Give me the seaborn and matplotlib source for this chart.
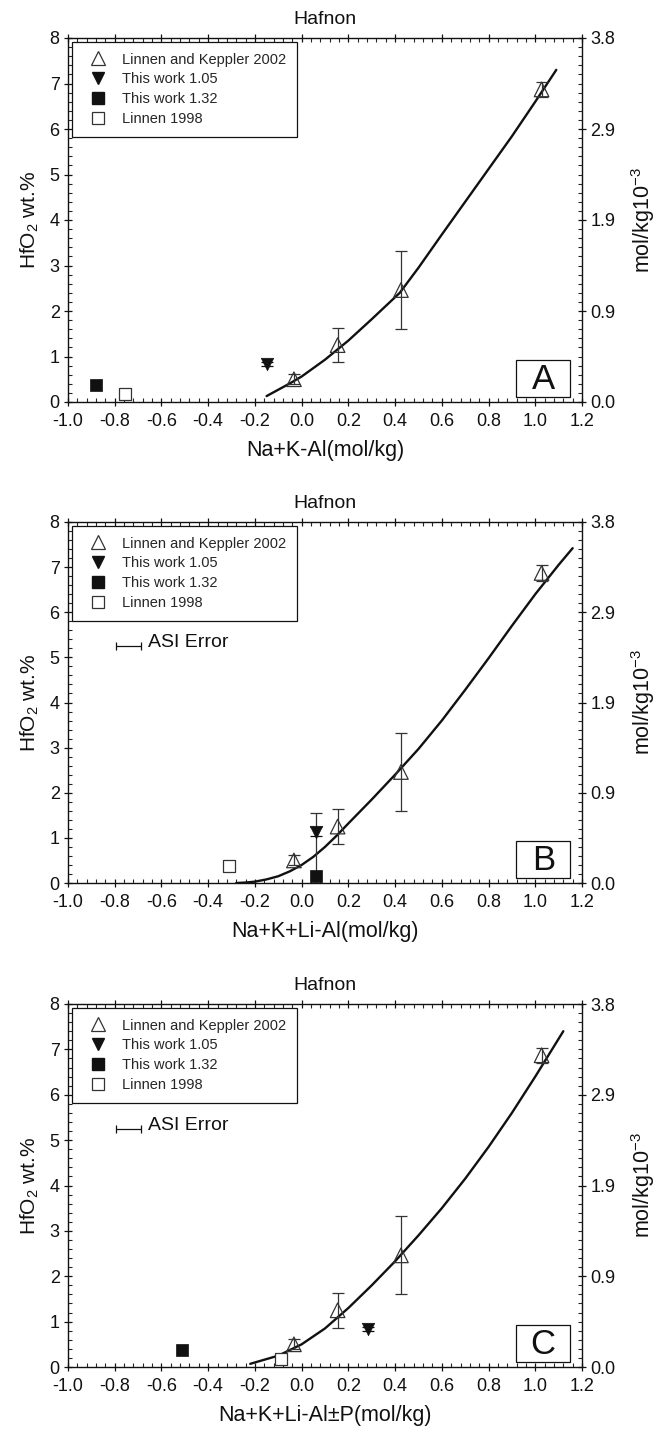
import matplotlib
matplotlib.use("Agg")
import matplotlib.pyplot as plt
import seaborn as sns
from matplotlib.lines import Line2D
from matplotlib.patches import Rectangle
from matplotlib.ticker import MultipleLocator, FixedLocator, FixedFormatter


# --------------------------------------------------
# Data
# --------------------------------------------------

panel_letters = ["A", "B", "C"]
x_labels = ["Na+K-Al(mol/kg)", "Na+K+Li-Al(mol/kg)", "Na+K+Li-Al±P(mol/kg)"]
legend_labels = ["Linnen and Keppler 2002", "This work 1.05", "This work 1.32", "Linnen 1998"]
right_tick_labels = ["0.0", "0.9", "1.9", "2.9", "3.8"]

# Linnen and Keppler 2002 (same in every panel)
keppler_x = [-0.033, 0.154, 0.425, 1.027]
keppler_y = [0.50, 1.25, 2.46, 6.87]
keppler_err = [0.11, 0.38, 0.86, 0.17]

# one value per panel (A, B, C)
work105_x = [-0.147, 0.062, 0.282]
work105_y = [0.84, 1.14, 0.84]
work105_err = [0.05, 0.10, 0.05]

work132_x = [-0.880, 0.062, -0.511]
work132_y = [0.38, 0.16, 0.38]
work132_err = [0.0, 1.39, 0.0]

linnen98_x = [-0.755, -0.313, -0.088]
linnen98_y = [0.18, 0.37, 0.18]

# fitted curves
curve_a_x = [-0.15, -0.1, -0.05, 0.0, 0.1, 0.2, 0.3, 0.42, 0.5, 0.6, 0.7, 0.8, 0.9, 1.0, 1.09]
curve_a_y = [0.13, 0.27, 0.41, 0.56, 0.93, 1.35, 1.82, 2.40, 2.95, 3.68, 4.40, 5.12, 5.84, 6.60, 7.30]

curve_b_x = [-0.28, -0.24, -0.2, -0.15, -0.1, -0.05, 0.0, 0.05, 0.1, 0.15, 0.2, 0.3,
             0.4, 0.5, 0.6, 0.7, 0.8, 0.9, 1.0, 1.1, 1.16]
curve_b_y = [0.0, 0.01, 0.03, 0.08, 0.15, 0.26, 0.40, 0.58, 0.80, 1.05, 1.32, 1.85,
             2.40, 2.97, 3.60, 4.28, 4.98, 5.70, 6.40, 7.05, 7.42]

curve_c_x = [-0.22, -0.1, 0.0, 0.1, 0.2, 0.3, 0.4, 0.5, 0.6, 0.7, 0.8, 0.9, 1.0, 1.12]
curve_c_y = [0.07, 0.25, 0.50, 0.85, 1.30, 1.80, 2.33, 2.90, 3.50, 4.15, 4.85, 5.60, 6.40, 7.40]

curves = [(curve_a_x, curve_a_y), (curve_b_x, curve_b_y), (curve_c_x, curve_c_y)]

# ASI error bar (panels B and C)
asi_x = -0.742
asi_y = 5.25
asi_err = 0.053


# --------------------------------------------------
# Style
# --------------------------------------------------

sns.set_style("ticks")
plt.rcParams["font.family"] = ["Liberation Sans", "DejaVu Sans"]
plt.rcParams["mathtext.fontset"] = "custom"
plt.rcParams["mathtext.rm"] = "Liberation Sans"
plt.rcParams["mathtext.it"] = "Liberation Sans"

ink = "#111111"
grey = "#333333"

fig = plt.figure(figsize=(6.62, 14.29), dpi=100)

W, H = 662, 1429
panel_boxes = [(38, 402), (522, 883), (1004, 1367)]
left_px, right_px = 68, 582


# --------------------------------------------------
# Panels
# --------------------------------------------------

for i, (top, bottom) in enumerate(panel_boxes):
    ax = fig.add_axes([
        left_px / W,
        (H - bottom) / H,
        (right_px - left_px) / W,
        (bottom - top) / H,
    ])

    cx, cy = curves[i]
    sns.lineplot(x=cx, y=cy, ax=ax, color=ink, linewidth=1.7, sort=False, zorder=2)
    ax.lines[-1].set_solid_joinstyle("round")

    # Linnen and Keppler 2002
    ax.errorbar(keppler_x, keppler_y, yerr=keppler_err, fmt="none",
                ecolor=grey, elinewidth=0.9, capsize=4, capthick=0.9, zorder=3)
    sns.scatterplot(x=keppler_x, y=keppler_y, ax=ax, marker="^", s=110,
                    facecolor="none", edgecolor=grey, linewidth=0.9, zorder=4)

    # This work 1.32
    if work132_err[i] > 0:
        ax.errorbar([work132_x[i]], [work132_y[i]], yerr=[work132_err[i]], fmt="none",
                    ecolor=grey, elinewidth=0.9, capsize=4, capthick=0.9, zorder=3)
    sns.scatterplot(x=[work132_x[i]], y=[work132_y[i]], ax=ax, marker="s", s=75,
                    color=ink, edgecolor=ink, linewidth=0.5, zorder=5)

    # This work 1.05
    ax.errorbar([work105_x[i]], [work105_y[i]], yerr=[work105_err[i]], fmt="none",
                ecolor=ink, elinewidth=0.9, capsize=4, capthick=0.9, zorder=3)
    sns.scatterplot(x=[work105_x[i]], y=[work105_y[i]], ax=ax, marker="v", s=80,
                    color=ink, edgecolor=ink, linewidth=0.5, zorder=5)

    # Linnen 1998
    sns.scatterplot(x=[linnen98_x[i]], y=[linnen98_y[i]], ax=ax, marker="s", s=75,
                    facecolor="white", edgecolor=grey, linewidth=0.9, zorder=5)

    if i > 0:
        ax.errorbar([asi_x], [asi_y], xerr=[asi_err], fmt="none", ecolor=ink,
                    elinewidth=0.9, capsize=3, capthick=0.9)
        ax.text(asi_x + asi_err + 0.03, asi_y + 0.08, "ASI Error", fontsize=14,
                ha="left", va="center", color=ink)

    ax.set_xlim(-1.0, 1.2)
    ax.set_ylim(0, 8)
    ax.xaxis.set_major_locator(MultipleLocator(0.2))
    ax.xaxis.set_minor_locator(MultipleLocator(0.04))
    ax.yaxis.set_major_locator(MultipleLocator(1))
    ax.yaxis.set_minor_locator(MultipleLocator(0.2))
    ax.xaxis.set_major_formatter(plt.FuncFormatter(lambda v, p: f"{v:.1f}"))
    ax.tick_params(which="major", direction="inout", length=6, width=0.9,
                   labelsize=13, colors=ink, top=True, bottom=True, left=True, right=False)
    ax.tick_params(which="minor", direction="in", length=3, width=0.8,
                   top=True, bottom=True, left=True, right=False)
    ax.tick_params(axis="x", pad=5)
    ax.tick_params(axis="y", pad=3)
    ax.tick_params(axis="x", which="both", labeltop=False)

    for sp in ax.spines.values():
        sp.set_color(ink)
        sp.set_linewidth(1.0)

    ax.set_title("Hafnon", fontsize=14, pad=10, color=ink)
    ax.set_xlabel(x_labels[i], fontsize=15.5, labelpad=7, color=ink)
    ax.set_ylabel("HfO$_2$ wt.%", fontsize=15, labelpad=6, color=ink)

    # right axis in mol/kg
    ax2 = ax.twinx()
    ax2.set_ylim(0, 8)
    ax2.yaxis.set_major_locator(FixedLocator([0, 2, 4, 6, 8]))
    ax2.yaxis.set_major_formatter(FixedFormatter(right_tick_labels))
    ax2.yaxis.set_minor_locator(MultipleLocator(0.2))
    ax2.tick_params(which="major", direction="inout", length=6, width=0.9,
                    labelsize=13, colors=ink, pad=3)
    ax2.tick_params(which="minor", direction="in", length=3, width=0.8)
    for sp in ax2.spines.values():
        sp.set_visible(False)
    ax2.set_ylabel("mol/kg10$^{-3}$", fontsize=15.5, labelpad=10, color=ink)

    # legend
    handles = [
        Line2D([], [], linestyle="none", marker="^", markersize=10,
               markerfacecolor="none", markeredgecolor=grey, markeredgewidth=0.9),
        Line2D([], [], linestyle="none", marker="v", markersize=9,
               markerfacecolor=ink, markeredgecolor=ink),
        Line2D([], [], linestyle="none", marker="s", markersize=8,
               markerfacecolor=ink, markeredgecolor=ink),
        Line2D([], [], linestyle="none", marker="s", markersize=8,
               markerfacecolor="white", markeredgecolor=grey, markeredgewidth=0.9),
    ]
    leg = ax.legend(handles, legend_labels, loc="upper left", bbox_to_anchor=(0.008, 0.99),
                    fontsize=10.5, frameon=True, fancybox=False, framealpha=1,
                    edgecolor=ink, borderpad=0.75, labelspacing=0.4,
                    handlelength=2.1, handletextpad=0.55, borderaxespad=0)
    leg.get_frame().set_linewidth(0.9)

    # panel letter box
    ax.add_patch(Rectangle((0.918, 0.10), 0.232, 0.82, fill=False, edgecolor=ink,
                           linewidth=0.9, zorder=6))
    ax.text(1.034, 0.50, panel_letters[i], fontsize=25, ha="center", va="center",
            color=ink, zorder=7)

fig.savefig("out.png", dpi=100)
